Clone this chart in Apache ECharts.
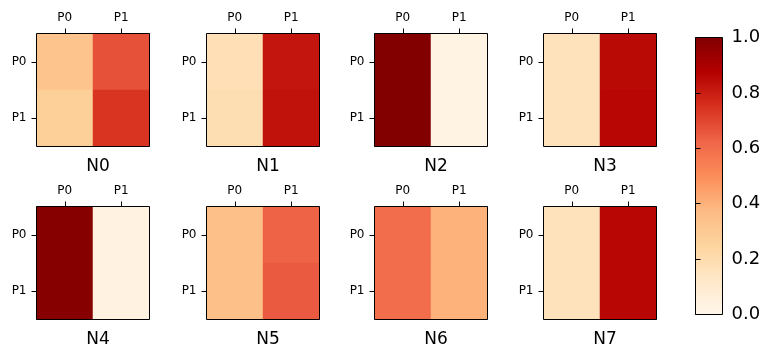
<!DOCTYPE html>
<html>
<head>
<meta charset="utf-8">
<script src="https://cdn.jsdelivr.net/npm/echarts@6/dist/echarts.min.js"></script>
<style>
  html, body { margin: 0; padding: 0; background: #fff; }
  #chart { width: 774px; height: 359px; }
</style>
</head>
<body>
<div id="chart"></div>
<script>
// tick labels for both axes of every panel
const cats = ['P0', 'P1'];
const panelNames = ['N0', 'N1', 'N2', 'N3', 'N4', 'N5', 'N6', 'N7'];
// values per panel, rows = y (P0, P1), columns = x (P0, P1)
const n0 = [[0.33, 0.67], [0.27, 0.74]];
const n1 = [[0.18, 0.82], [0.19, 0.83]];
const n2 = [[0.99, 0.03], [0.99, 0.03]];
const n3 = [[0.16, 0.85], [0.16, 0.86]];
const n4 = [[0.98, 0.04], [0.98, 0.04]];
const n5 = [[0.35, 0.63], [0.35, 0.65]];
const n6 = [[0.60, 0.40], [0.60, 0.40]];
const n7 = [[0.16, 0.86], [0.16, 0.86]];
const panels = [n0, n1, n2, n3, n4, n5, n6, n7];
const cbTicks = [0, 0.2, 0.4, 0.6, 0.8, 1.0];

// OrRd
const orrd = ['#fff7ec', '#fee8c8', '#fdd49e', '#fdbb84', '#fc8d59', '#ef6548', '#d7301f', '#b30000', '#7f0000'];

const lefts = [36.5, 206.5, 374.5, 543.5];
const tops = [33.5, 206.5];
const W = 113, H = 113;

const chart = echarts.init(document.getElementById('chart'));

const grid = [], xAxis = [], yAxis = [], series = [], title = [];
const tickFont = { fontFamily: 'DejaVu Sans', fontSize: 12, color: '#000' };
const tick = { show: true, alignWithLabel: true, length: 5, lineStyle: { color: '#000' } };

panels.forEach((m, i) => {
  const left = lefts[i % 4];
  const top = tops[Math.floor(i / 4)];
  // z above the cells so the frame stays visible
  grid.push({
    left: left, top: top, width: W, height: H, z: 5,
    show: true, borderColor: '#000', borderWidth: 1, backgroundColor: 'transparent',
  });
  xAxis.push({
    gridIndex: i, type: 'category', data: cats, position: 'top',
    axisLine: { show: false },
    axisTick: tick,
    axisLabel: Object.assign({ margin: 10 }, tickFont),
    splitLine: { show: false },
  });
  yAxis.push({
    gridIndex: i, type: 'category', data: cats, inverse: true,
    axisLine: { show: false },
    axisTick: tick,
    axisLabel: Object.assign({ margin: 10 }, tickFont),
    splitLine: { show: false },
  });
  const data = [];
  m.forEach((row, y) => row.forEach((v, x) => data.push([x, y, v])));
  series.push({
    type: 'heatmap', xAxisIndex: i, yAxisIndex: i, data: data,
    itemStyle: { borderWidth: 0 },
    emphasis: { disabled: true },
  });
  title.push({
    text: panelNames[i], left: left + W / 2, textAlign: 'center',
    top: top + H + 7,
    textStyle: { fontFamily: 'DejaVu Sans', fontSize: 17, fontWeight: 'normal', color: '#000' },
  });
});

// colorbar
const cbIdx = panels.length;
grid.push({
  left: 695.5, top: 37.5, width: 27, height: 277,
  show: true, borderColor: '#000', borderWidth: 1,
  backgroundColor: new echarts.graphic.LinearGradient(0, 0, 0, 1,
    orrd.slice().reverse().map((c, k) => ({ offset: k / (orrd.length - 1), color: c }))),
});
xAxis.push({ gridIndex: cbIdx, type: 'value', show: false, min: 0, max: 1 });
yAxis.push({
  gridIndex: cbIdx, type: 'value', position: 'right', min: cbTicks[0], max: cbTicks[cbTicks.length - 1], interval: 0.2,
  axisLine: { show: false },
  axisTick: { show: true, length: 5, lineStyle: { color: '#000' } },
  axisLabel: { margin: 9, fontFamily: 'DejaVu Sans', fontSize: 18, color: '#000', formatter: (v) => v.toFixed(1) },
  splitLine: { show: false },
});

chart.setOption({
  animation: false,
  backgroundColor: '#fff',
  title: title,
  grid: grid,
  xAxis: xAxis,
  yAxis: yAxis,
  visualMap: {
    show: false, type: 'continuous', min: 0, max: 1,
    seriesIndex: panels.map((_, i) => i),
    inRange: { color: orrd },
  },
  series: series,
});
</script>
</body>
</html>
